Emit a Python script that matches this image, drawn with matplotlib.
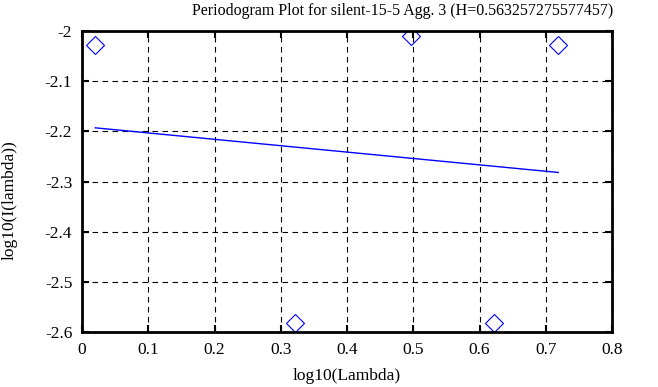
import matplotlib
matplotlib.use("Agg")
import matplotlib.pyplot as plt

# periodogram points (log10 lambda, log10 I(lambda))
log_lambda = [0.0200, 0.3211, 0.4971, 0.6221, 0.7190]
log_I = [-2.027, -2.582, -2.010, -2.582, -2.028]

# fitted line endpoints
fit_x = [0.0200, 0.7190]
fit_y = [-2.193, -2.282]

plt.rcParams['font.family'] = ['Liberation Serif', 'DejaVu Serif']
plt.rcParams['font.size'] = 12

W, H = 658, 387
fig = plt.figure(figsize=(W/100, H/100), dpi=100)
ax = fig.add_axes([82/W, 1-332/H, 530/W, 301/H])

ax.plot(log_lambda, log_I, linestyle='none', marker='D', markersize=9.5,
        markerfacecolor='none', markeredgecolor='blue', markeredgewidth=0.8)
ax.plot(fit_x, fit_y, color='blue', linewidth=1.0)

ax.set_xlim(0, 0.8)
ax.set_ylim(-2.6, -2.0)
ax.set_xticks([0, 0.1, 0.2, 0.3, 0.4, 0.5, 0.6, 0.7, 0.8])
ax.set_xticklabels(['0', '0.1', '0.2', '0.3', '0.4', '0.5', '0.6', '0.7', '0.8'])
ax.set_yticks([-2.6, -2.5, -2.4, -2.3, -2.2, -2.1, -2.0])
ax.set_yticklabels(['-2.6', '-2.5', '-2.4', '-2.3', '-2.2', '-2.1', '-2'])
ax.grid(True, color='black', linestyle=(0, (5, 4)), linewidth=0.8)
ax.tick_params(direction='in', length=5, width=1.5, top=True, right=True,
               labelsize=12.5, pad=7)
for s in ax.spines.values():
    s.set_linewidth(2)

# gnuplot-style text placement
fig.text(403/W, 1-11/H, 'Periodogram Plot for silent-15-5 Agg. 3 (H=0.563257275577457)',
         ha='center', va='center', fontsize=11.5)
fig.text(347/W, 1-376/H, 'log10(Lambda)', ha='center', va='center', fontsize=12.5)
fig.text(10/W, 1-200/H, 'log10(I(lambda))', ha='center', va='center',
         rotation=90, fontsize=12.5)

fig.savefig('out.png', dpi=100)
